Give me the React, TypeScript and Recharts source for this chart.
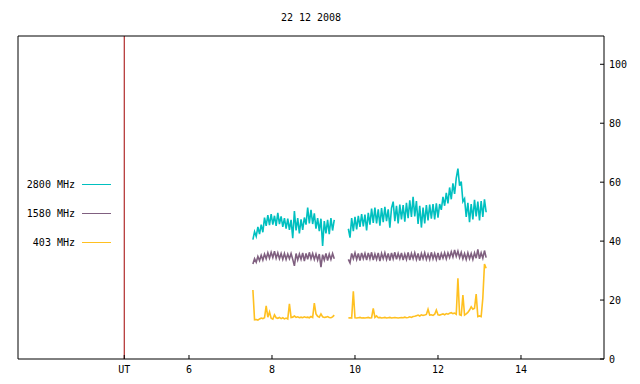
import { ComposedChart, Line, XAxis, YAxis, ReferenceLine, Legend } from "recharts";

const TITLE = "22 12 2008";

// two recording segments, one sample every 0.04 h (UT)
const SEG1_START = 7.54;
const SEG2_START = 9.84;
const STEP = 0.04;

const x2800a = [
  40.5, 43.2, 41.6, 44.8, 42.4, 45.6, 43.0, 48.0, 45.2, 48.8,
  45.4, 49.2, 45.6, 48.6, 45.2, 49.6, 45.8, 48.4, 44.8, 47.8,
  44.2, 47.6, 43.8, 47.2, 41.0, 50.2, 43.6, 47.8, 42.6, 47.4,
  43.8, 48.0, 45.6, 51.4, 46.0, 50.6, 45.8, 49.4, 44.2, 47.8,
  43.4, 47.6, 38.4, 46.8, 42.6, 47.2, 42.4, 47.8, 43.6, 47.2,
];
const x2800b = [
  44.2, 41.2, 47.8, 43.4, 48.2, 44.0, 48.6, 44.8, 49.2, 45.0,
  49.0, 43.6, 49.6, 45.6, 51.0, 46.2, 51.4, 46.0, 50.8, 45.2,
  51.2, 46.4, 51.6, 46.8, 50.8, 44.6, 51.2, 53.4, 46.8, 52.0,
  46.0, 52.4, 47.4, 52.2, 46.6, 53.0, 47.8, 53.8, 48.2, 55.0,
  48.4, 53.6, 45.8, 52.0, 44.6, 51.4, 46.0, 52.2, 47.0, 52.4,
  47.6, 52.6, 47.4, 52.8, 48.0, 52.6, 50.6, 55.0, 52.0, 56.4,
  52.8, 58.2, 54.2, 59.6, 56.0, 61.4, 64.6, 58.8, 60.2, 53.4,
  54.4, 48.2, 53.0, 46.4, 52.6, 47.4, 54.0, 48.4, 53.4, 47.0,
  53.6, 48.2, 54.2, 49.8,
];

const x1580a = [
  32.2, 34.0, 32.8, 34.8, 33.4, 35.2, 33.6, 35.6, 34.0, 36.0,
  34.2, 36.2, 34.4, 36.6, 34.2, 36.0, 34.0, 35.8, 33.8, 35.8,
  33.8, 35.6, 34.0, 35.8, 33.8, 31.6, 35.8, 33.6, 35.6, 33.8,
  36.0, 33.2, 35.8, 33.8, 36.2, 34.0, 35.8, 33.8, 35.6, 33.6,
  35.6, 31.2, 35.4, 33.6, 35.8, 33.4, 35.6, 33.8, 35.8, 34.0,
];
const x1580b = [
  33.8, 32.6, 35.8, 34.0, 36.0, 33.8, 35.8, 33.4, 36.0, 34.0,
  35.8, 33.6, 36.0, 34.0, 36.2, 33.6, 35.6, 33.8, 36.0, 33.2,
  35.8, 34.0, 36.0, 33.8, 35.8, 33.4, 36.0, 34.0, 36.2, 33.8,
  35.8, 34.0, 36.0, 33.6, 35.6, 33.8, 36.2, 33.6, 35.8, 34.0,
  36.0, 33.8, 35.8, 33.4, 35.8, 34.0, 36.0, 33.8, 35.6, 33.8,
  36.2, 34.0, 35.8, 33.8, 36.0, 33.6, 35.8, 34.2, 36.0, 34.0,
  36.0, 34.4, 36.4, 34.6, 37.0, 34.8, 36.6, 34.4, 36.2, 34.0,
  35.8, 33.8, 36.0, 34.0, 35.8, 33.8, 36.0, 34.2, 37.2, 34.0,
  36.0, 34.2, 36.8, 34.4,
];

const x403a = [
  23.4, 13.3, 13.4, 13.2, 13.6, 13.9, 13.7, 14.0, 18.0, 14.2,
  16.0, 13.8, 13.5, 15.0, 14.0, 13.8, 14.1, 13.7, 14.0, 13.6,
  13.9, 13.6, 18.7, 14.1, 14.2, 14.6, 14.1, 14.3, 14.0, 14.2,
  14.0, 14.3, 14.1, 14.2, 14.0, 14.4, 14.1, 19.0, 15.3, 14.5,
  14.2, 15.3, 14.3, 14.1, 14.2, 14.4, 14.1, 14.0, 14.3, 14.9,
];
const x403b = [
  13.9, 14.0, 13.9, 23.0, 14.0, 13.9, 14.0, 14.1, 13.9, 14.0,
  13.9, 14.0, 14.1, 13.9, 14.0, 17.2, 14.1, 14.6, 14.0, 14.1,
  13.9, 14.0, 14.1, 13.9, 14.0, 14.1, 13.9, 14.0, 14.1, 14.0,
  13.9, 14.0, 14.1, 14.0, 14.2, 14.0, 14.1, 14.3, 14.1, 14.4,
  14.5, 14.7, 14.9, 14.6, 15.0, 14.8, 14.9, 15.1, 16.9, 14.9,
  15.0, 14.8, 15.2, 16.6, 15.0, 14.9, 15.1, 15.3, 15.0, 15.4,
  15.2, 15.5, 15.7, 15.4, 15.6, 15.2, 27.4, 15.0, 14.8, 21.7,
  14.9, 15.3, 15.8, 16.6, 17.7, 16.9, 17.2, 22.0, 14.4, 14.6,
  14.4, 20.6, 32.2, 30.8,
];

const X_TICKS = [4.44, 6, 8, 10, 12, 14];
const Y_TICKS = [0, 20, 40, 60, 80, 100];
const UT_AT = 4.44;

const series = [
  { name: "2800 MHz", color: "#00c0c0", a: x2800a, b: x2800b },
  { name: "1580 MHz", color: "#806080", a: x1580a, b: x1580b },
  { name: "403 MHz", color: "#ffc020", a: x403a, b: x403b },
];

function build(a: number[], b: number[]) {
  return [
    ...a.map((v, i) => ({ t: SEG1_START + i * STEP, v })),
    { t: 9.67, v: null },
    ...b.map((v, i) => ({ t: SEG2_START + i * STEP, v })),
  ];
}

const FONT = "'DejaVu Sans Mono', monospace";
const tickStyle = { fontSize: 10, fontFamily: FONT, fill: "#000" };

function LegendBox() {
  return (
    <svg width={130} height={260} style={{ display: "block" }}>
      {series.map((s, i) => (
        <g key={s.name}>
          <text x={75} y={188 + i * 29} textAnchor="end" fontSize={10} fontFamily={FONT} fill="#000">
            {s.name}
          </text>
          <line x1={82} x2={111} y1={184.5 + i * 29} y2={184.5 + i * 29} stroke={s.color} strokeWidth={1} />
        </g>
      ))}
    </svg>
  );
}

export default function App() {
  return (
    <div style={{ position: "absolute", left: 0, top: 0, width: 640, height: 384, background: "#fff" }}>
      <div
        style={{
          position: "absolute",
          left: 0,
          top: 12,
          width: 622,
          textAlign: "center",
          fontFamily: FONT,
          fontSize: 10,
          lineHeight: "12px",
          color: "#000",
        }}
      >
        {TITLE}
      </div>
      <ComposedChart width={640} height={384} margin={{ top: 35, right: 6, bottom: 0, left: 17 }}>
        <XAxis
          xAxisId="b"
          dataKey="t"
          type="number"
          domain={[1.88, 16]}
          allowDataOverflow
          ticks={X_TICKS}
          interval={0}
          tickFormatter={(v: number) => (v === UT_AT ? "UT" : String(v))}
          height={25}
          tickSize={-4}
          tickMargin={11}
          stroke="#000"
          tick={tickStyle}
        />
        <XAxis
          xAxisId="t"
          orientation="top"
          dataKey="t"
          type="number"
          domain={[1.88, 16]}
          allowDataOverflow
          ticks={[6, 8, 10, 12, 14]}
          height={1}
          tickSize={-4}
          tick={false}
          stroke="#000"
        />
        <YAxis
          yAxisId="r"
          orientation="right"
          type="number"
          domain={[0, 109.6]}
          allowDataOverflow
          ticks={Y_TICKS}
          interval={0}
          width={30}
          tickSize={-4}
          tickMargin={9}
          stroke="#000"
          tick={tickStyle}
        />
        <YAxis
          yAxisId="l"
          orientation="left"
          type="number"
          domain={[0, 109.6]}
          width={1}
          tick={false}
          tickLine={false}
          stroke="#000"
        />
        <ReferenceLine xAxisId="b" yAxisId="r" x={UT_AT} stroke="#a00000" strokeWidth={1} />
        {series.map((s) => (
          <Line
            key={s.name}
            xAxisId="b"
            yAxisId="r"
            data={build(s.a, s.b)}
            dataKey="v"
            name={s.name}
            type="linear"
            stroke={s.color}
            strokeWidth={1.6}
            dot={false}
            activeDot={false}
            isAnimationActive={false}
          />
        ))}
        <Legend
          layout="vertical"
          align="center"
          verticalAlign="middle"
          content={() => <LegendBox />}
          wrapperStyle={{ position: "absolute", left: 0, top: 0, width: 130, height: 260 }}
        />
      </ComposedChart>
    </div>
  );
}
